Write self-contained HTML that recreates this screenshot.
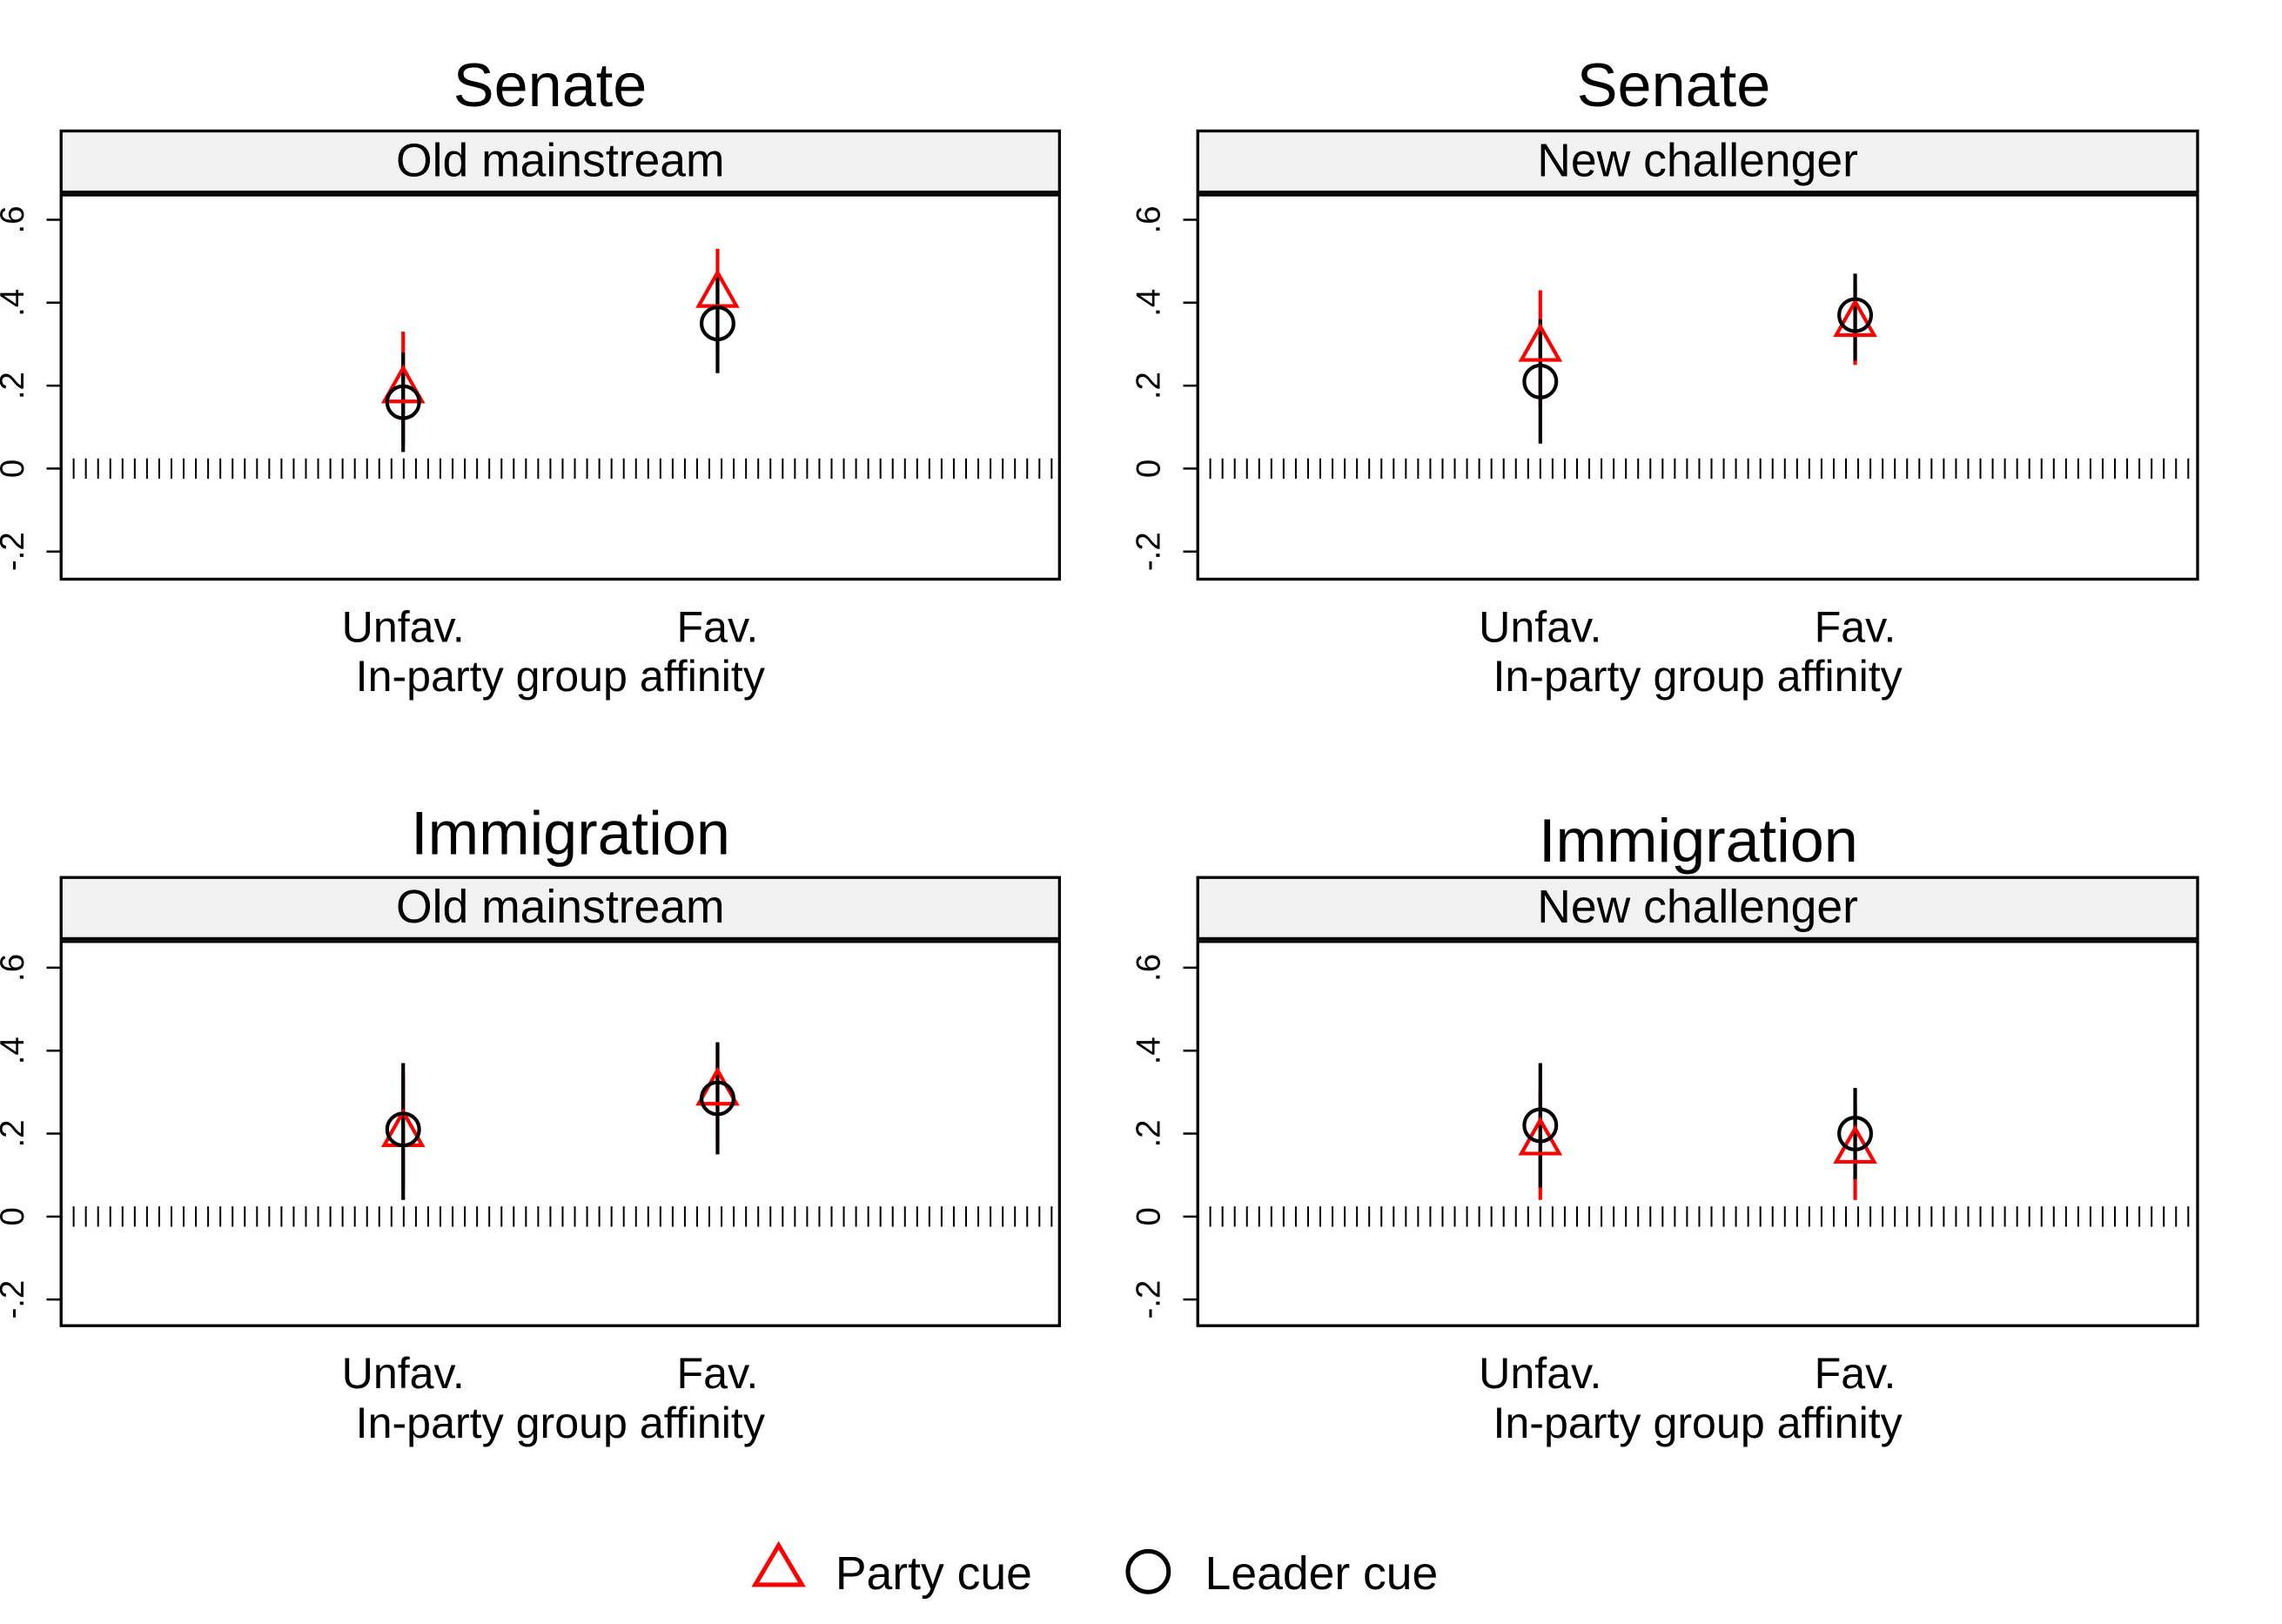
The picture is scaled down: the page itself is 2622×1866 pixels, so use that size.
<!DOCTYPE html>
<html><head><meta charset="utf-8"><style>
html,body{margin:0;padding:0;background:#fff;}
svg{display:block;}
text{font-family:"Liberation Sans",Arial,sans-serif;fill:#000;}
</style></head><body>
<svg id="fig" width="2622" height="1866" viewBox="0 0 1568 1116" preserveAspectRatio="none" xmlns="http://www.w3.org/2000/svg"></svg>
<script>
const panelTitles = ["Senate","Senate","Immigration","Immigration"];
const panelStrips = ["Old mainstream","New challenger","Old mainstream","New challenger"];
const categories = ["Unfav.","Fav."];
const yTicks = [-0.2,0,0.2,0.4,0.6];
const yTickLabels = ["-.2","0",".2",".4",".6"];
const partyEst = [[0.19,0.42],[0.29,0.35],[0.20,0.30],[0.18,0.16]];
const partyLo  = [[0.06,0.30],[0.15,0.25],[0.07,0.18],[0.04,0.04]];
const partyHi  = [[0.33,0.53],[0.43,0.45],[0.34,0.42],[0.30,0.27]];
const leaderEst = [[0.16,0.35],[0.21,0.37],[0.21,0.285],[0.22,0.20]];
const leaderLo  = [[0.04,0.23],[0.06,0.26],[0.04,0.15],[0.07,0.09]];
const leaderHi  = [[0.28,0.47],[0.36,0.47],[0.37,0.42],[0.37,0.31]];

const NS="http://www.w3.org/2000/svg";
const svg=document.getElementById('fig');
function mk(tag,attrs,parent){const e=document.createElementNS(NS,tag);for(const k in attrs)e.setAttribute(k,attrs[k]);(parent||svg).appendChild(e);return e;}

const layout=[
 {x0:42,x1:728,top:134,bot:398,stripTop:90,titleY:73,tx:378,zero:322,xlY:441,atY:475},
 {x0:823,x1:1510,top:134,bot:398,stripTop:90,titleY:73,tx:1150,zero:322,xlY:441,atY:475},
 {x0:42,x1:728,top:647,bot:911,stripTop:603,titleY:587,tx:392,zero:836,xlY:954,atY:988},
 {x0:823,x1:1510,top:647,bot:911,stripTop:603,titleY:592,tx:1167,zero:836,xlY:954,atY:988}
];

layout.forEach((L,p)=>{
  const g=mk('g',{});
  
  
  const yS=v=>L.zero - v*285;
  const xS=c=>L.x0 + (L.x1-L.x0)*(0.3426 + c*0.3149);
  const t=mk('text',{x:L.tx,y:L.titleY,'font-size':42,'text-anchor':'middle'},g);t.textContent=panelTitles[p];
  
  const s=mk('rect',{x:L.x0,y:L.stripTop,width:L.x1-L.x0,height:L.top-L.stripTop-2,fill:'#f2f2f2',stroke:'#000','stroke-width':2},g);
  
  const st=mk('text',{x:(L.x0+L.x1)/2,y:L.stripTop+31,'font-size':32,'text-anchor':'middle'},g);st.textContent=panelStrips[p];
  
  const b=mk('rect',{x:L.x0,y:L.top,width:L.x1-L.x0,height:L.bot-L.top,fill:'#fff',stroke:'#000','stroke-width':2},g);
  
  yTicks.forEach((v,i)=>{
    const y=yS(v);
    const tk=mk('line',{x1:L.x0-10,x2:L.x0,y1:y,y2:y,stroke:'#000','stroke-width':1.5},g);
    
    const tl=mk('text',{x:0,y:0,'font-size':23,'text-anchor':'middle',transform:`translate(${L.x0-26},${y}) rotate(-90)`},g);
    tl.textContent=yTickLabels[i];
    
  });
  const z=mk('line',{x1:L.x0+8,x2:L.x1,y1:yS(0),y2:yS(0),stroke:'#000','stroke-width':14,'stroke-dasharray':'1.2 7.2'},g);
  
  categories.forEach((c,i)=>{
    const x=xS(i);
    const xl=mk('text',{x:x,y:L.xlY,'font-size':30,'text-anchor':'middle'},g);xl.textContent=c;
    
    const r=mk('line',{x1:x,x2:x,y1:yS(partyLo[p][i]),y2:yS(partyHi[p][i]),stroke:'#f00','stroke-width':2.5},g);
    
    const k=mk('line',{x1:x,x2:x,y1:yS(leaderLo[p][i]),y2:yS(leaderHi[p][i]),stroke:'#000','stroke-width':2.5},g);
    
    const py=yS(partyEst[p][i]);
    const tri=mk('polygon',{points:`${x},${py-15} ${x-13},${py+8} ${x+13},${py+8}`,fill:'none',stroke:'#f00','stroke-width':2.5},g);
    
    const ci=mk('circle',{cx:x,cy:yS(leaderEst[p][i]),r:11,fill:'none',stroke:'#000','stroke-width':2.5},g);
    
  });
  const at=mk('text',{x:(L.x0+L.x1)/2,y:L.atY,'font-size':30,'text-anchor':'middle'},g);at.textContent="In-party group affinity";
  
});
const lg=mk('g',{});

const lt=mk('polygon',{points:'535,1062 519,1089 551,1089',fill:'none',stroke:'#f00','stroke-width':3},lg);

const ltx=mk('text',{x:574,y:1092,'font-size':32},lg);ltx.textContent="Party cue";

const lc=mk('circle',{cx:789,cy:1080,r:14,fill:'none',stroke:'#000','stroke-width':3},lg);

const lcx=mk('text',{x:828,y:1092,'font-size':32},lg);lcx.textContent="Leader cue";

</script>
</body></html>
